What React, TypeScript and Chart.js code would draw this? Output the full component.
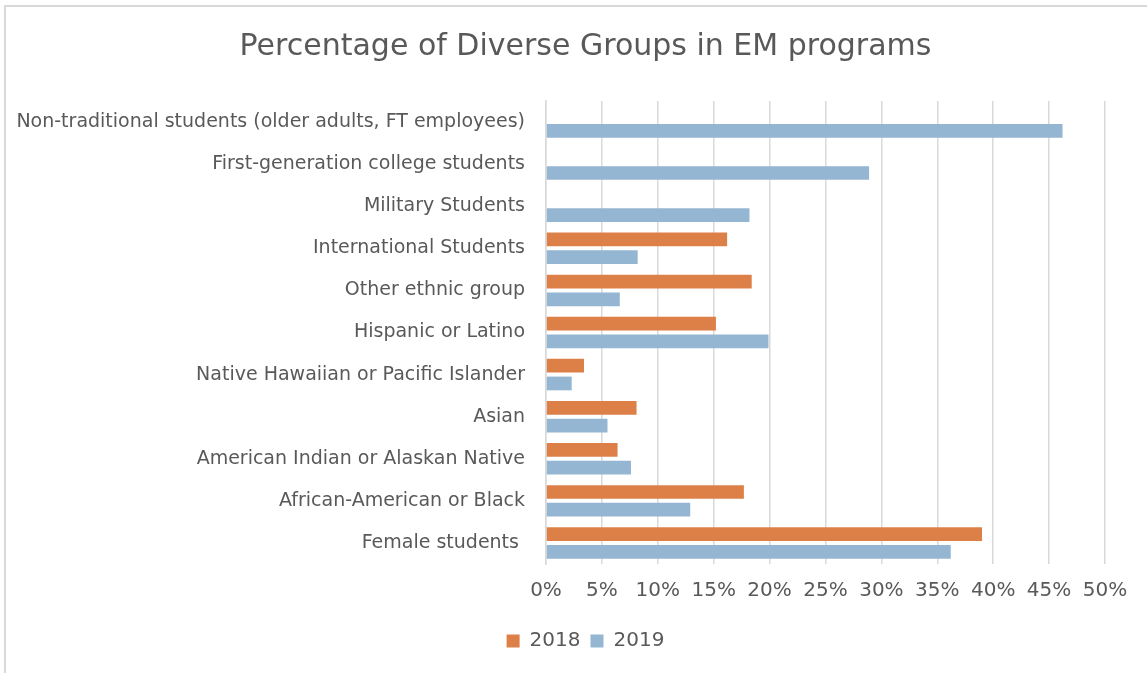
import React, { useEffect, useRef } from "react";
import { Chart, registerables } from "chart.js";

Chart.register(...registerables);

const categories = [
  "Non-traditional students (older adults, FT employees)",
  "First-generation college students",
  "Military Students",
  "International Students",
  "Other ethnic group",
  "Hispanic or Latino",
  "Native Hawaiian or Pacific Islander",
  "Asian",
  "American Indian or Alaskan Native",
  "African-American or Black",
  "Female students ",
];

const values2018: (number | null)[] = [null, null, null, 16.2, 18.4, 15.2, 3.4, 8.1, 6.4, 17.7, 39.0];
const values2019: (number | null)[] = [46.2, 28.9, 18.2, 8.2, 6.6, 19.9, 2.3, 5.5, 7.6, 12.9, 36.2];

const seriesNames = ["2018", "2019"];
const xTicks = [0, 5, 10, 15, 20, 25, 30, 35, 40, 45, 50];

const TITLE = "Percentage of Diverse Groups in EM programs";
const TEXT = "#595959";
const FONT = "'DejaVu Sans', sans-serif";

// shifts the title and legend boxes so they are centred like the original
const centerShift = {
  id: "centerShift",
  afterLayout(chart: any) {
    const shift = 33;
    const boxes = [chart.titleBlock, chart.legend];
    boxes.forEach((b: any) => {
      if (b) {
        b.left += shift;
        b.right += shift;
      }
    });
  },
};

export default function App() {
  const ref = useRef<HTMLCanvasElement | null>(null);

  useEffect(() => {
    if (!ref.current) return;
    const chart = new Chart(ref.current, {
      type: "bar",
      data: {
        labels: categories,
        datasets: [
          {
            label: seriesNames[0],
            data: values2018,
            backgroundColor: "#DD8047",
            borderWidth: 0,
            categoryPercentage: 0.843,
            barPercentage: 0.774,
          },
          {
            label: seriesNames[1],
            data: values2019,
            backgroundColor: "#94B6D2",
            borderWidth: 0,
            categoryPercentage: 0.843,
            barPercentage: 0.774,
          },
        ],
      },
      plugins: [centerShift],
      options: {
        indexAxis: "y",
        animation: false,
        responsive: false,
        maintainAspectRatio: false,
        layout: { padding: { left: 0, right: 42, top: 0, bottom: 12 } },
        plugins: {
          title: {
            display: true,
            text: TITLE,
            color: TEXT,
            font: { family: FONT, size: 30, weight: "normal" },
            padding: { top: 29, bottom: 36 },
          },
          legend: {
            display: true,
            position: "bottom",
            labels: {
              color: TEXT,
              font: { family: FONT, size: 20 },
              boxWidth: 13,
              boxHeight: 13,
              padding: 10,
            },
          },
          tooltip: { enabled: false },
        },
        scales: {
          x: {
            min: 0,
            max: 50,
            afterBuildTicks: (scale: any) => {
              scale.ticks = xTicks.map((v) => ({ value: v }));
            },
            afterFit: (scale: any) => {
              scale.height = 57;
            },
            grid: {
              color: "#d9d9d9",
              lineWidth: 1.5,
              drawTicks: false,
            },
            border: { display: false },
            ticks: {
              color: TEXT,
              font: { family: FONT, size: 20 },
              padding: 15,
              maxRotation: 0,
              autoSkip: false,
              callback: (v: any) => `${v}%`,
            },
          },
          y: {
            afterFit: (scale: any) => {
              scale.width = 546;
            },
            grid: { display: false, drawTicks: false },
            border: { display: true, color: "#d9d9d9", width: 1.5 },
            ticks: {
              color: TEXT,
              font: { family: FONT, size: 19 },
              padding: 21,
              autoSkip: false,
            },
          },
        },
      },
    });
    return () => chart.destroy();
  }, []);

  return (
    <div
      style={{
        position: "fixed",
        left: 0,
        top: 0,
        width: 1147,
        height: 673,
        overflow: "hidden",
        background: "#ffffff",
      }}
    >
      <div
        style={{
          position: "absolute",
          left: 4,
          top: 5,
          width: 1200,
          height: 700,
          border: "2px solid #d9d9d9",
          boxSizing: "border-box",
        }}
      />
      <canvas
        ref={ref}
        width={1147}
        height={673}
        style={{ position: "absolute", left: 0, top: 0, width: 1147, height: 673 }}
      />
    </div>
  );
}
